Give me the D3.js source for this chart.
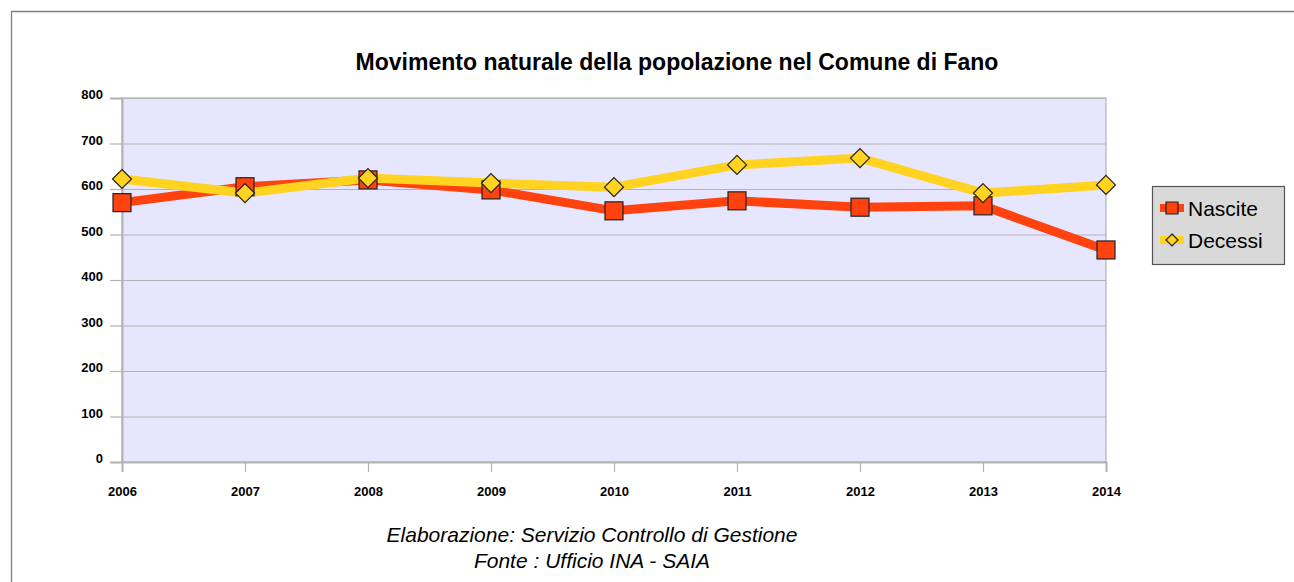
<!DOCTYPE html>
<html>
<head>
<meta charset="utf-8">
<script src="https://cdn.jsdelivr.net/npm/d3@7"></script>
<style>
  body { margin: 0; background: #fff; }
  svg { font-family: "Liberation Sans", Arial, sans-serif; }
</style>
</head>
<body>
<div id="chart"></div>
<script>
var years = [2006, 2007, 2008, 2009, 2010, 2011, 2012, 2013, 2014];
var nascite = [570, 605, 620, 598, 552, 574, 560, 563, 466];
var decessi = [622, 591, 624, 613, 604, 653, 668, 591, 609];
var yTicks = [0, 100, 200, 300, 400, 500, 600, 700, 800];
var seriesNames = ['Nascite', 'Decessi'];

var width = 1294, height = 582;
var plotLeft = 122, plotRight = 1106, plotTop = 98, plotBottom = 462;

var svg = d3.select('#chart')
    .append('svg')
    .attr('width', width)
    .attr('height', height);

// outer frame
svg.append('path')
    .attr('d', 'M11.5,' + height + 'V11.5H' + width)
    .attr('fill', 'none')
    .attr('stroke', '#7f7f7f')
    .attr('stroke-width', 1.3);

var x = d3.scalePoint()
    .domain(years)
    .range([plotLeft, plotRight]);

var y = d3.scaleLinear()
    .domain([0, 800])
    .range([plotBottom, plotTop]);

// plot background
svg.append('rect')
    .attr('x', plotLeft)
    .attr('y', plotTop)
    .attr('width', plotRight - plotLeft)
    .attr('height', plotBottom - plotTop)
    .attr('fill', '#e6e6ff')
    .attr('stroke', '#b3b3b3')
    .attr('stroke-width', 1.2);

// grid
svg.selectAll('.grid')
    .data(yTicks).enter()
    .append('line')
    .attr('x1', plotLeft)
    .attr('x2', plotRight)
    .attr('y1', function (d) { return y(d) + 0.5; })
    .attr('y2', function (d) { return y(d) + 0.5; })
    .attr('stroke', '#b3b3b3')
    .attr('stroke-width', 1.2);

// y axis
var yAxis = svg.append('g')
    .attr('transform', 'translate(' + plotLeft + ',0)')
    .call(d3.axisLeft(y).tickValues(yTicks).tickSize(12).tickPadding(7));
yAxis.select('.domain').attr('stroke', '#b3b3b3').attr('stroke-width', 2);
yAxis.selectAll('.tick line').attr('stroke', '#b3b3b3').attr('stroke-width', 1.2);
yAxis.selectAll('text')
    .attr('font-size', 13)
    .attr('font-weight', 'bold')
    .attr('fill', '#000')
    .attr('dy', '0.05em')
    .attr('font-family', '"Liberation Sans", Arial, sans-serif');

// x axis
var xAxis = svg.append('g')
    .attr('transform', 'translate(0,' + plotBottom + ')')
    .call(d3.axisBottom(x).tickSize(10).tickPadding(15));
xAxis.select('.domain').attr('stroke', '#b3b3b3').attr('stroke-width', 2);
xAxis.selectAll('.tick line').attr('stroke', '#b3b3b3').attr('stroke-width', 1.2);
xAxis.selectAll('text')
    .attr('font-size', 13)
    .attr('font-weight', 'bold')
    .attr('fill', '#000')
    .attr('font-family', '"Liberation Sans", Arial, sans-serif');

var line = d3.line()
    .x(function (d, i) { return x(years[i]); })
    .y(function (d) { return y(d); });

// Nascite line
svg.append('path')
    .datum(nascite)
    .attr('d', line)
    .attr('fill', 'none')
    .attr('stroke', '#ff420e')
    .attr('stroke-width', 9);

// Decessi line
svg.append('path')
    .datum(decessi)
    .attr('d', line)
    .attr('fill', 'none')
    .attr('stroke', '#ffd320')
    .attr('stroke-width', 9);

// squares
svg.selectAll('.sq')
    .data(nascite).enter()
    .append('rect')
    .attr('x', function (d, i) { return x(years[i]) - 9; })
    .attr('y', function (d) { return y(d) - 9; })
    .attr('width', 18)
    .attr('height', 18)
    .attr('fill', '#ff420e')
    .attr('stroke', '#222')
    .attr('stroke-width', 1.2);

// diamonds
var diamond = 'M0,-9.5L9.5,0L0,9.5L-9.5,0Z';
svg.selectAll('.dm')
    .data(decessi).enter()
    .append('path')
    .attr('d', diamond)
    .attr('transform', function (d, i) {
        return 'translate(' + x(years[i]) + ',' + y(d) + ')';
    })
    .attr('fill', '#ffd320')
    .attr('stroke', '#222')
    .attr('stroke-width', 1.2);

// title
svg.append('text')
    .attr('x', 677)
    .attr('y', 70)
    .attr('text-anchor', 'middle')
    .attr('font-size', 23)
    .attr('font-weight', 'bold')
    .text('Movimento naturale della popolazione nel Comune di Fano');

// legend
var legend = svg.append('g');
legend.append('rect')
    .attr('x', 1152.5)
    .attr('y', 186.5)
    .attr('width', 132)
    .attr('height', 78)
    .attr('fill', '#d9d9d9')
    .attr('stroke', '#555')
    .attr('stroke-width', 1.2);

var items = legend.selectAll('.item')
    .data(seriesNames).enter()
    .append('g')
    .attr('transform', function (d, i) { return 'translate(0,' + (208 + i * 32) + ')'; });

items.append('rect')
    .attr('x', 1160)
    .attr('y', -4)
    .attr('width', 24)
    .attr('height', 8)
    .attr('fill', function (d, i) { return i === 0 ? '#ff420e' : '#ffd320'; });

items.append('path')
    .attr('d', function (d, i) {
        return i === 0 ? 'M-6,-6H6V6H-6Z' : 'M0,-6L6,0L0,6L-6,0Z';
    })
    .attr('transform', 'translate(1172,0)')
    .attr('fill', function (d, i) { return i === 0 ? '#ff420e' : '#ffd320'; })
    .attr('stroke', '#222')
    .attr('stroke-width', 1.2);

items.append('text')
    .attr('x', 1188)
    .attr('y', 8)
    .attr('font-size', 21)
    .attr('fill', '#000')
    .text(function (d) { return d; });

// caption
var caption = ['Elaborazione: Servizio Controllo di Gestione', 'Fonte : Ufficio INA - SAIA'];
svg.selectAll('.cap')
    .data(caption).enter()
    .append('text')
    .attr('x', 592)
    .attr('y', function (d, i) { return 542 + i * 26; })
    .attr('text-anchor', 'middle')
    .attr('font-size', 21)
    .attr('font-style', 'italic')
    .text(function (d) { return d; });
</script>
</body>
</html>
